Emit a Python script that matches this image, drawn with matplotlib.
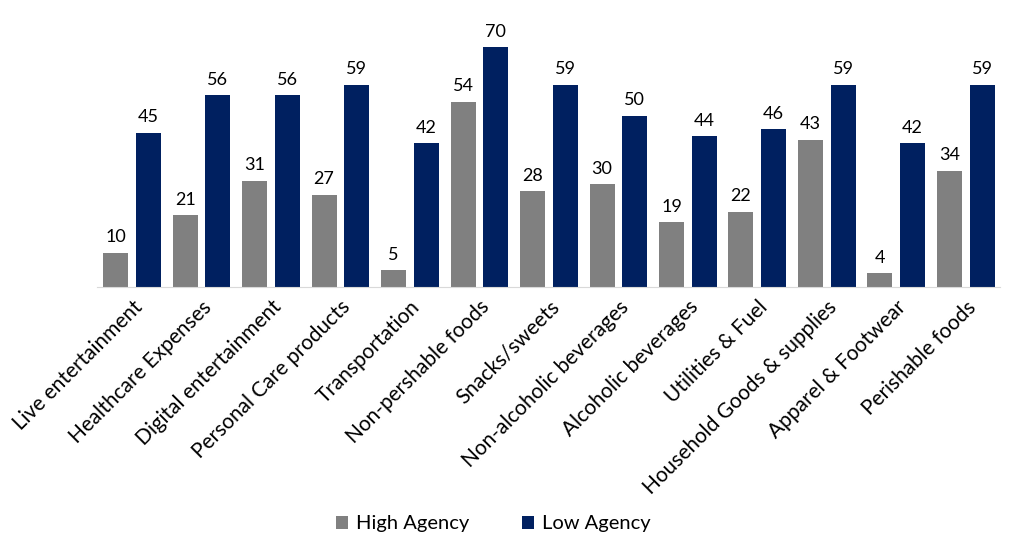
import matplotlib.pyplot as plt
import numpy as np

plt.rcParams['font.family'] = ['Lato', 'DejaVu Sans']

categories = ["Live entertainment", "Healthcare Expenses", "Digital entertainment",
              "Personal Care products", "Transportation", "Non-pershable foods",
              "Snacks/sweets", "Non-alcoholic beverages", "Alcoholic beverages",
              "Utilities & Fuel", "Household Goods & supplies", "Apparel & Footwear",
              "Perishable foods"]
high_agency = [10, 21, 31, 27, 5, 54, 28, 30, 19, 22, 43, 4, 34]
low_agency = [45, 56, 56, 59, 42, 70, 59, 50, 44, 46, 59, 42, 59]

fig = plt.figure(figsize=(10.24, 5.45), dpi=100)
ax = fig.add_axes([0.095, 0.473, 0.882, 0.472])

x = np.arange(len(categories))
w = 0.36
off = 0.235
b1 = ax.bar(x - off, high_agency, w, color='#808080', label='High Agency')
b2 = ax.bar(x + off, low_agency, w, color='#002060', label='Low Agency')

for bars, vals in [(b1, high_agency), (b2, low_agency)]:
    for r, v in zip(bars, vals):
        ax.text(r.get_x() + r.get_width() / 2, v + 2.2, str(v),
                ha='center', va='bottom', fontsize=13)

ax.set_xlim(-0.5, len(categories) - 0.5)
ax.set_ylim(0, 75)
ax.set_yticks([])
ax.set_xticks(x)
ax.set_xticklabels(categories, rotation=45, ha='right', rotation_mode='anchor', fontsize=15)
ax.tick_params(axis='x', length=0, pad=7)
for s in ['top', 'right', 'left']:
    ax.spines[s].set_visible(False)
ax.spines['bottom'].set_color('#d9d9d9')

fig.legend(loc='lower center', ncol=2, frameon=False, fontsize=14.5,
           bbox_to_anchor=(0.482, -0.01), handlelength=0.6, handleheight=0.6,
           handletextpad=0.4, columnspacing=2.6)

fig.savefig('out.png')
